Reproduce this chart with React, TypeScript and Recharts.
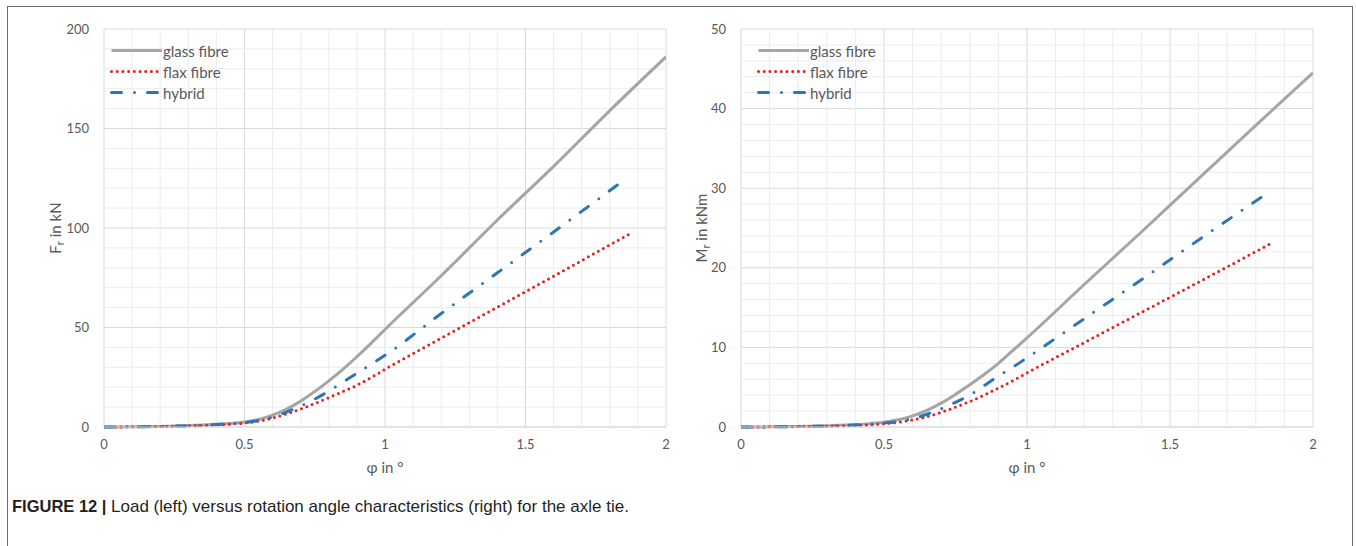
import React from "react";
import { LineChart, Line, XAxis, YAxis, CartesianGrid, Legend, ReferenceLine } from "recharts";

// x axis (rotation angle, degrees)
const phiTicks = [0, 0.5, 1, 1.5, 2];
const phiMinor = [0.1, 0.2, 0.3, 0.4, 0.6, 0.7, 0.8, 0.9, 1.1, 1.2, 1.3, 1.4, 1.6, 1.7, 1.8, 1.9];

// left panel: load F_r in kN
const loadTicks = [0, 50, 100, 150, 200];
const loadMinor = [10, 20, 30, 40, 60, 70, 80, 90, 110, 120, 130, 140, 160, 170, 180, 190];

const phiGlass = [0, 0.1, 0.2, 0.3, 0.4, 0.5, 0.55, 0.6, 0.65, 0.7, 0.75, 0.8, 0.85, 0.9, 0.95, 1.0, 1.2, 1.4, 1.6, 1.8, 2.0];
const loadGlass = [0, 0.1, 0.3, 0.7, 1.4, 2.5, 3.8, 6, 9, 13, 17.8, 23.2, 29, 35.3, 42, 49, 76, 104, 131, 159, 186];

const phiFlax = [0, 0.1, 0.2, 0.3, 0.4, 0.5, 0.55, 0.6, 0.65, 0.7, 0.75, 0.8, 0.85, 0.9, 0.95, 1.0, 1.2, 1.4, 1.6, 1.87];
const loadFlax = [0, 0.1, 0.3, 0.6, 1.1, 2, 2.9, 4.5, 6.6, 9, 11.8, 14.8, 17.8, 21, 24.8, 29, 44.6, 60.2, 75.8, 97];

const phiHybrid = [0, 0.1, 0.2, 0.3, 0.4, 0.5, 0.55, 0.6, 0.65, 0.7, 0.75, 0.8, 0.85, 0.9, 0.95, 1.0, 1.2, 1.4, 1.6, 1.85];
const loadHybrid = [0, 0.1, 0.3, 0.6, 1.2, 2.2, 3.2, 5, 7.5, 10.5, 14, 18, 22.5, 27, 31.5, 36, 57, 77.5, 98, 124];

// right panel: moment M_r in kNm
const momentTicks = [0, 10, 20, 30, 40, 50];
const momentMinor = [2, 4, 6, 8, 12, 14, 16, 18, 22, 24, 26, 28, 32, 34, 36, 38, 42, 44, 46, 48];

const momentGlass = [0, 0.02, 0.06, 0.15, 0.3, 0.6, 0.9, 1.4, 2.1, 3.0, 4.1, 5.3, 6.6, 8.0, 9.6, 11.2, 17.9, 24.5, 31.2, 37.9, 44.5];
const phiFlaxM = [0, 0.1, 0.2, 0.3, 0.4, 0.5, 0.55, 0.6, 0.65, 0.7, 0.75, 0.8, 0.85, 0.9, 0.95, 1.0, 1.2, 1.4, 1.6, 1.85];
const momentFlax = [0, 0.02, 0.05, 0.1, 0.2, 0.4, 0.6, 0.9, 1.3, 1.85, 2.5, 3.2, 4.0, 4.9, 5.8, 6.8, 10.6, 14.4, 18.2, 23];
const phiHybridM = [0, 0.1, 0.2, 0.3, 0.4, 0.5, 0.55, 0.6, 0.65, 0.7, 0.75, 0.8, 0.85, 0.9, 0.95, 1.0, 1.2, 1.4, 1.6, 1.85];
const momentHybrid = [0, 0.02, 0.05, 0.12, 0.25, 0.5, 0.7, 1.05, 1.6, 2.3, 3.1, 4.0, 5.2, 6.4, 7.5, 8.7, 13.6, 18.5, 23.5, 29.6];

const seriesNames = ["glass fibre", "flax fibre", "hybrid"];

const styles = [
  { stroke: "#a5a5a5", dash: undefined, cap: "butt" as const },
  { stroke: "#ec1c1c", dash: "0 5.7", cap: "round" as const },
  { stroke: "#2e75b6", dash: "10 13 0 13", cap: "round" as const },
];

const zip = (xs: number[], ys: number[]) => xs.map((x, i) => ({ phi: x, v: ys[i] }));

const FONT = "Lato, 'Open Sans', sans-serif";
const TXT = "#595959";
const MINOR = "#ececec";

function LegendRows() {
  return (
    <div style={{ fontFamily: FONT, fontSize: 15, color: TXT }}>
      {seriesNames.map((name, i) => (
        <div key={name} style={{ display: "flex", alignItems: "center", height: 21 }}>
          <svg width={52} height={21}>
            <line
              x1={1.5}
              y1={10.5}
              x2={i === 0 ? 52 : 50}
              y2={10.5}
              stroke={styles[i].stroke}
              strokeWidth={3}
              strokeDasharray={styles[i].dash}
              strokeLinecap={styles[i].cap}
            />
          </svg>
          <span style={{ marginLeft: 1 }}>{name}</span>
        </div>
      ))}
    </div>
  );
}

type PanelProps = {
  left: number;
  yWidth: number;
  rightMargin: number;
  yTicks: number[];
  yMinor: number[];
  series: { phi: number; v: number }[][];
  titleMain: string;
  titleRest: string;
  titleX: number;
  legendLeft: number;
};

function Panel(p: PanelProps) {
  const W = 700;
  const H = 490;
  const plotLeft = p.yWidth;
  const plotRight = W - p.rightMargin;
  const cx = (plotLeft + plotRight) / 2;
  const yMax = p.yTicks[p.yTicks.length - 1];
  return (
    <div style={{ position: "absolute", left: p.left, top: 0 }}>
      <LineChart width={W} height={H} margin={{ top: 29, right: p.rightMargin, left: 0, bottom: 0 }}>
        <XAxis
          type="number"
          dataKey="phi"
          domain={[0, 2]}
          ticks={phiTicks}
          allowDataOverflow
          height={63}
          tickSize={0}
          tickMargin={13}
          axisLine={{ stroke: "#d9d9d9" }}
          tick={{ fill: TXT, fontSize: 13, fontFamily: FONT }}
          label={{
            content: () => (
              <text x={cx} y={467} textAnchor="middle" dominantBaseline="central" fill={TXT} fontSize={15} fontFamily={FONT}>
                φ in °
              </text>
            ),
          }}
        />
        <YAxis
          type="number"
          domain={[0, yMax]}
          ticks={p.yTicks}
          width={p.yWidth}
          tickSize={0}
          tickMargin={15}
          axisLine={false}
          tick={{ fill: TXT, fontSize: 13, fontFamily: FONT }}
          label={{
            content: () => (
              <text
                x={p.titleX}
                y={228}
                transform={`rotate(-90 ${p.titleX} 228)`}
                textAnchor="middle"
                dominantBaseline="central"
                fill={TXT}
                fontSize={15}
                fontFamily={FONT}
              >
                {p.titleMain}
                <tspan fontSize={11} dy={4}>r</tspan>
                <tspan dy={-4}>{p.titleRest}</tspan>
              </text>
            ),
          }}
        />
        {phiMinor.map((v) => (
          <ReferenceLine key={`x${v}`} x={v} stroke={MINOR} strokeWidth={1} />
        ))}
        {p.yMinor.map((v) => (
          <ReferenceLine key={`y${v}`} y={v} stroke={MINOR} strokeWidth={1} />
        ))}
        <CartesianGrid stroke="#d9d9d9" strokeWidth={1} />
        <Legend
          layout="vertical"
          align="center"
          verticalAlign="middle"
          content={() => <LegendRows />}
          wrapperStyle={{ left: p.legendLeft, top: 40, width: 200 }}
        />
        {p.series.map((d, i) => (
          <Line
            key={seriesNames[i]}
            name={seriesNames[i]}
            data={d}
            dataKey="v"
            type="monotone"
            stroke={styles[i].stroke}
            strokeWidth={3}
            strokeDasharray={styles[i].dash}
            strokeLinecap={styles[i].cap}
            dot={false}
            activeDot={false}
            isAnimationActive={false}
          />
        ))}
      </LineChart>
    </div>
  );
}

export default function App() {
  return (
    <div style={{ position: "absolute", left: 0, top: 0, width: 1356, height: 546, background: "#fff", overflow: "hidden" }}>
      <div
        style={{
          position: "absolute",
          left: 7,
          top: 6,
          width: 1346,
          height: 560,
          border: "1.5px solid #6f6f6f",
          boxSizing: "border-box",
        }}
      />
      <Panel
        left={0}
        yWidth={104}
        rightMargin={34}
        yTicks={loadTicks}
        yMinor={loadMinor}
        series={[zip(phiGlass, loadGlass), zip(phiFlax, loadFlax), zip(phiHybrid, loadHybrid)]}
        titleMain="F"
        titleRest=" in kN"
        titleX={55}
        legendLeft={110}
      />
      <Panel
        left={641}
        yWidth={100}
        rightMargin={28}
        yTicks={momentTicks}
        yMinor={momentMinor}
        series={[zip(phiGlass, momentGlass), zip(phiFlaxM, momentFlax), zip(phiHybridM, momentHybrid)]}
        titleMain="M"
        titleRest=" in kNm"
        titleX={60}
        legendLeft={116}
      />
      <div style={{ position: "absolute", left: 12, top: 496, whiteSpace: "nowrap", color: "#231f20", lineHeight: "20px" }}>
        <span style={{ fontFamily: "'Liberation Sans', Arial, sans-serif", fontWeight: 700, fontSize: 16.5 }}>FIGURE 12 | </span>
        <span style={{ fontFamily: "'Liberation Sans Narrow', 'Liberation Sans', sans-serif", fontSize: 17 }}>
          Load (left) versus rotation angle characteristics (right) for the axle tie.
        </span>
      </div>
    </div>
  );
}
